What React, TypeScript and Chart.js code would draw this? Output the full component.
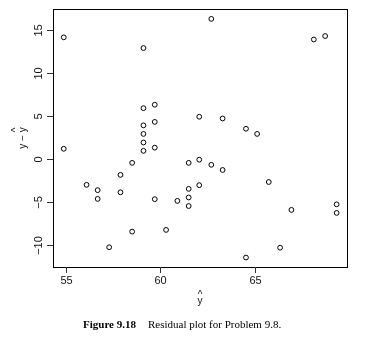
import React, { useEffect, useRef } from "react";
import { Chart, registerables } from "chart.js";

Chart.register(...registerables);

const fittedValues = [
  54.87, 54.87, 56.08, 56.67, 56.67, 57.28, 57.88, 57.88, 58.5, 58.5,
  59.1, 59.1, 59.1, 59.1, 59.1, 59.1, 59.7, 59.7, 59.7, 59.7,
  60.3, 60.9, 61.5, 61.5, 61.5, 61.5, 62.06, 62.06, 62.06, 62.7,
  62.7, 63.3, 63.3, 64.54, 64.54, 65.13, 65.75, 66.35, 66.95, 68.14,
  68.74, 69.35, 69.35,
];
const residuals = [
  14.15, 1.17, -3.03, -3.65, -4.67, -10.3, -1.87, -3.9, -0.47, -8.48,
  12.9, 5.9, 3.9, 2.9, 1.9, 0.93, 6.3, 4.3, 1.3, -4.7,
  -8.28, -4.9, -0.47, -3.5, -4.5, -5.5, -0.1, 4.9, -3.07, 16.3,
  -0.7, 4.7, -1.3, 3.5, -11.5, 2.9, -2.7, -10.35, -5.95, 13.9,
  14.3, -5.3, -6.3,
];
const xTicks = [55, 60, 65];
const yTicks = [-10, -5, 0, 5, 10, 15];
const xTickLabels = ["55", "60", "65"];
const yTickLabels = ["\u221210", "\u22125", "0", "5", "10", "15"];
const captionBold = "Figure 9.18";
const captionText = "Residual plot for Problem 9.8.";

const axesPlugin = {
  id: "rAxes",
  afterDraw(chart: any) {
    const { ctx, chartArea } = chart;
    const xs = chart.scales.x;
    const ys = chart.scales.y;
    const { left, right, top, bottom } = chartArea;
    ctx.save();
    ctx.strokeStyle = "#000";
    ctx.lineWidth = 1;
    ctx.strokeRect(Math.round(left) + 0.5, Math.round(top) + 0.5, Math.round(right - left), Math.round(bottom - top));
    ctx.fillStyle = "#111";
    ctx.font = "11px 'Liberation Sans', Arial, sans-serif";
    ctx.textAlign = "center";
    ctx.textBaseline = "middle";
    ctx.strokeStyle = "#333";
    xTicks.forEach((v, i) => {
      const px = Math.round(xs.getPixelForValue(v)) + 0.5;
      ctx.beginPath();
      ctx.moveTo(px, Math.round(bottom));
      ctx.lineTo(px, Math.round(bottom) + 6);
      ctx.stroke();
      ctx.fillText(xTickLabels[i], px, bottom + 14);
    });
    yTicks.forEach((v, i) => {
      const py = Math.round(ys.getPixelForValue(v)) + 0.5;
      ctx.beginPath();
      ctx.moveTo(Math.round(left) - 6, py);
      ctx.lineTo(Math.round(left), py);
      ctx.stroke();
      ctx.save();
      ctx.translate(left - 14, py);
      ctx.rotate(-Math.PI / 2);
      ctx.fillText(yTickLabels[i], 0, 0);
      ctx.restore();
    });
    // y title
    ctx.save();
    const cy = (top + bottom) / 2;
    ctx.translate(23, cy);
    ctx.rotate(-Math.PI / 2);
    ctx.font = "10px 'Liberation Sans', Arial, sans-serif";
    const full = "y \u2212 y";
    const w = ctx.measureText(full).width;
    ctx.textAlign = "left";
    ctx.fillText(full, -w / 2, 0);
    const lastW = ctx.measureText("y").width;
    ctx.textAlign = "center";
    ctx.fillText("^", w / 2 - lastW / 2, -7);
    ctx.restore();
    // x title
    const cx = (left + right) / 2;
    ctx.font = "10px 'Liberation Sans', Arial, sans-serif";
    ctx.fillText("y", cx, 301);
    ctx.fillText("^", cx, 295);
    // caption
    ctx.textAlign = "left";
    ctx.fillStyle = "#000";
    ctx.font = "bold 11px 'Liberation Serif', 'Times New Roman', serif";
    const bw = ctx.measureText(captionBold).width;
    const x0 = 83;
    ctx.fillText(captionBold, x0, 325);
    ctx.font = "11px 'Liberation Serif', 'Times New Roman', serif";
    ctx.fillText(captionText, x0 + bw + 12, 325);
    ctx.restore();
  },
};

export default function App() {
  const ref = useRef<HTMLCanvasElement>(null);
  useEffect(() => {
    if (!ref.current) return;
    const chart = new Chart(ref.current, {
      type: "scatter",
      data: {
        datasets: [
          {
            data: fittedValues.map((x, i) => ({ x, y: residuals[i] })),
            pointRadius: 2.4,
            pointBorderWidth: 1,
            pointBorderColor: "#000",
            pointBackgroundColor: "rgba(0,0,0,0)",
            pointHoverRadius: 2.4,
          },
        ],
      },
      options: {
        animation: false,
        responsive: false,
        events: [],
        layout: { padding: { left: 0, top: 9, right: 26, bottom: 0 } },
        plugins: { legend: { display: false }, tooltip: { enabled: false } },
        scales: {
          x: {
            type: "linear",
            min: 54.3,
            max: 69.9,
            display: true,
            grid: { display: false },
            border: { display: false },
            ticks: { display: false },
            afterFit: (s: any) => { s.height = 86; },
          },
          y: {
            type: "linear",
            min: -12.6,
            max: 17.45,
            display: true,
            grid: { display: false },
            border: { display: false },
            ticks: { display: false },
            afterFit: (s: any) => { s.width = 53; },
          },
        },
      },
      plugins: [axesPlugin],
    });
    return () => chart.destroy();
  }, []);
  return (
    <canvas
      ref={ref}
      width={373}
      height={353}
      style={{ position: "absolute", left: 0, top: 0, width: 373, height: 353, background: "#fff" }}
    />
  );
}
